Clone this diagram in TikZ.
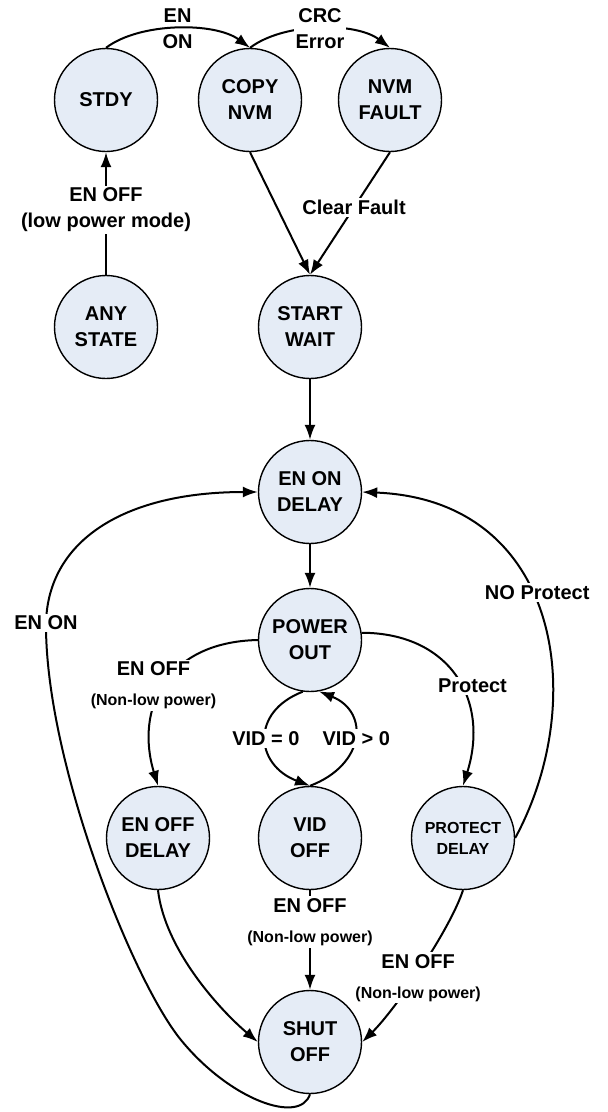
\documentclass[tikz,border=0pt]{standalone}
\usepackage{fontspec}
\setmainfont{Liberation Sans}
\usepackage{tikz}
\usetikzlibrary{arrows.meta}
\definecolor{StateFill}{RGB}{229,236,246}
\newcommand{\smallcond}{\fontsize{16}{19}\selectfont}
\tikzset{
  every node/.style={
    font=\fontsize{20}{26}\selectfont\bfseries
  },
  fsm state/.style={
    shape=circle,
    draw=black,
    line width=1.4pt,
    fill=StateFill,
    minimum size=103pt,
    inner sep=0pt,
    align=center
  },
  fsm small/.style={
    fsm state,
    font=\fontsize{16}{21}\selectfont\bfseries
  },
  trans/.style={
    line width=2pt,
    -{Latex[length=15pt,width=11pt]}
  },
  cond/.style={
    align=center,
    inner sep=2pt
  },
  cond box/.style={
    cond,
    fill=white
  }
}

\begin{document}
\begin{tikzpicture}[x=1pt,y=1pt]
    \useasboundingbox (0,0) rectangle (608,-1112);
    \node[fsm state] (stdy)    at (106,-100)  {STDY};
    \node[fsm state] (copy)    at (250,-100)  {COPY\\NVM};
    \node[fsm state] (fault)   at (390,-100)  {NVM\\FAULT};
    \node[fsm state] (any)     at (106,-327)  {ANY\\STATE};
    \node[fsm state] (start)   at (310,-327)  {START\\WAIT};
    \node[fsm state] (enon)    at (310,-492)  {EN ON\\DELAY};
    \node[fsm state] (power)   at (310,-640)  {POWER\\OUT};
    \node[fsm state] (offdly)  at (158,-838)  {EN OFF\\DELAY};
    \node[fsm state] (vidoff)  at (310,-838)  {VID\\OFF};
    \node[fsm small] (protdly) at (463,-838)  {PROTECT\\DELAY};
    \node[fsm state] (shut)    at (310,-1042) {SHUT\\OFF};
    \draw[trans] (stdy.north) .. controls (140,-22) and (215,-22) .. (copy.north)
      node[cond, pos=0.5] {EN\\ON};
    \draw[trans] (copy.north) .. controls (284,-22) and (356,-22) .. (fault.north)
      node[cond box, pos=0.5] {CRC\\Error};
    \draw[trans] (any) -- node[cond box, pos=0.53] {EN OFF\\(low power mode)} (stdy);
    \draw[trans] (copy.south) -- (start.north);
    \draw[trans] (fault.south) -- node[cond box, pos=0.45] {Clear Fault} (start.north);
    \draw[trans] (start) -- (enon);
    \draw[trans] (enon) -- (power);
    \draw[trans] (power.west) .. controls (165,-642) and (135,-710) .. (offdly.north)
      node[cond box, pos=0.5, xshift=-11pt] {EN OFF\\[4pt]\smallcond (Non-low power)};
    \draw[trans] (power.8) .. controls (450,-633) and (490,-700) .. (protdly.north)
      node[cond box, pos=0.55, xshift=12pt] {Protect};
    \draw[trans] (power.262) .. controls (250,-712) and (255,-765) .. (vidoff.north)
      node[cond box, pos=0.5] {VID = 0};
    \draw[trans] (vidoff.north) .. controls (365,-765) and (370,-712) .. (power.280)
      node[cond box, pos=0.5, xshift=2pt] {VID > 0};
    \draw[trans] (vidoff) -- node[cond box, pos=0.32] {EN OFF\\[4pt]\smallcond (Non-low power)} (shut);
    \draw[trans] (offdly.south) .. controls (165,-950) and (220,-1010) .. (shut.west);
    \draw[trans] (protdly.south) .. controls (450,-930) and (395,-1010) .. (shut.east)
      node[cond box, pos=0.55, xshift=4pt] {EN OFF\\[4pt]\smallcond (Non-low power)};
    \draw[trans] (protdly.east) .. controls (590,-700) and (560,-500) .. (enon.east)
      node[cond box, pos=0.56, xshift=6pt] {NO Protect};
    \draw[trans] (shut.south) .. controls (300,-1125) and (230,-1100) .. (181,-1040)
      .. controls (132,-980) and (45,-760) .. (46,-623) node[cond box] {EN ON}
      .. controls (48,-540) and (125,-492) .. (enon.west);
\end{tikzpicture}
\end{document}
